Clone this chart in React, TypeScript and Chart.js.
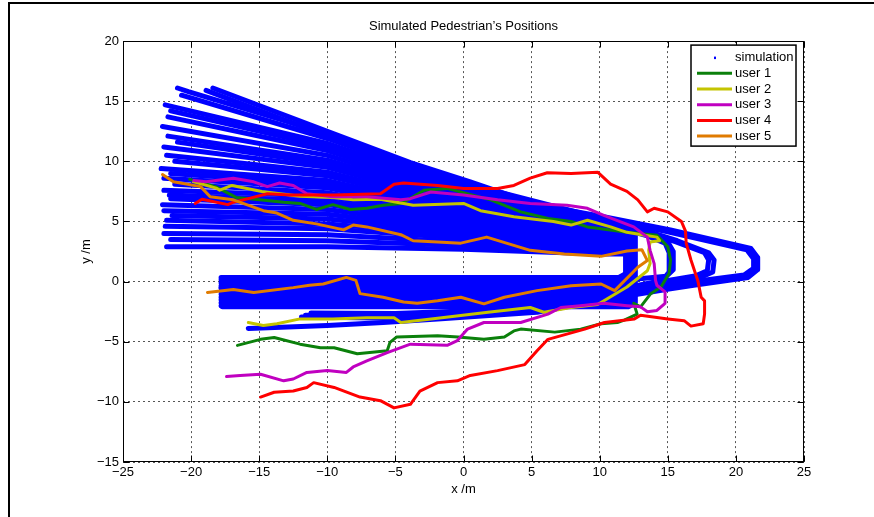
import { useEffect, useRef } from 'react';
import { Chart, registerables } from 'chart.js';

Chart.register(...registerables);

type Pt = [number, number];

const xTickValues = [-25, -20, -15, -10, -5, 0, 5, 10, 15, 20, 25];
const yTickValues = [-15, -10, -5, 0, 5, 10, 15, 20];

const simLabel = 'simulation';
const simColor = '#0000ff';
const userNames = ['user 1', 'user 2', 'user 3', 'user 4', 'user 5'];
const userColors = ['#0b800b', '#c4c400', '#c000c0', '#ff0000', '#e07b00'];

const user1: Pt[] = [
  [-20.1, 8.5], [-18.2, 7.9], [-16.7, 7.0], [-15.7, 6.9], [-13.2, 6.6], [-12.0, 6.5], [-10.8, 6.0],
  [-9.6, 6.4], [-8.3, 6.0], [-7.1, 6.1], [-5.9, 6.35], [-4.6, 6.5], [-3.7, 7.05], [-2.9, 7.6],
  [-1.2, 7.75], [2.0, 6.8], [4.2, 5.8], [6.2, 5.25], [7.9, 5.0], [9.1, 4.55], [10.1, 4.4],
  [12.0, 4.1], [14.2, 3.85], [15.0, 2.9], [15.2, 1.8], [15.1, 0.7], [14.5, -0.45], [13.75, -1.0],
  [13.0, -2.1], [12.5, -1.8], [12.75, -2.7], [11.8, -3.2], [11.3, -3.4], [10.1, -3.5], [8.6, -3.95],
  [6.7, -4.2], [4.2, -3.95], [3.7, -4.1], [3.0, -4.6], [1.5, -4.8], [-0.4, -4.6], [-1.9, -4.5],
  [-4.9, -4.6], [-5.4, -5.05], [-5.6, -5.75], [-7.8, -6.0], [-9.5, -5.5], [-10.5, -5.5],
  [-12.0, -5.2], [-13.9, -4.65], [-14.9, -4.8], [-16.6, -5.3],
];

const user2: Pt[] = [
  [-19.8, 8.3], [-18.1, 7.75], [-17.9, 7.6], [-17.0, 8.0], [-14.8, 7.5], [-12.0, 7.1], [-9.6, 7.0],
  [-8.1, 6.8], [-6.1, 6.85], [-3.7, 6.35], [0, 6.5], [1.25, 5.9], [3.7, 5.4], [6.6, 5.0],
  [7.9, 4.7], [9.1, 5.1], [10.8, 4.55], [12.0, 4.1], [13.3, 3.85], [14.2, 3.7], [14.4, 3.4],
  [13.7, 3.3], [13.6, 2.6], [13.7, 1.5], [13.5, 0.9], [12.0, -0.45], [9.85, -1.9], [7.9, -2.15],
  [5.9, -2.55], [4.9, -2.15], [1.8, -2.55], [-1.9, -3.05], [-4.6, -3.4], [-5.1, -3.0], [-7.1, -3.0],
  [-9.6, -3.1], [-12.0, -3.1], [-13.7, -3.5], [-14.7, -3.65], [-15.8, -3.4],
];

const user3: Pt[] = [
  [-19.8, 8.4], [-18.9, 8.3], [-16.9, 8.6], [-15.4, 8.3], [-14.4, 7.9], [-13.5, 8.2], [-12.5, 8.0],
  [-11.5, 7.3], [-9.6, 7.05], [-7.1, 7.05], [-4.6, 6.8], [-3.9, 6.9], [-2.4, 7.45], [0, 7.2],
  [2.5, 6.8], [4.9, 6.5], [7.6, 6.35], [9.1, 6.1], [10.3, 5.5], [12.5, 4.55], [13.5, 3.7],
  [13.7, 2.6], [14.0, 1.5], [14.1, 0.1], [14.2, -0.3], [14.8, -0.85], [14.8, -1.8], [14.2, -2.4],
  [13.5, -2.5], [13.0, -2.1], [12.0, -2.0], [10.3, -1.8], [8.6, -2.0], [7.15, -2.15], [6.2, -2.7],
  [4.2, -3.4], [1.5, -3.4], [0.3, -3.95], [-0.45, -4.9], [-1.2, -5.3], [-3.9, -5.2], [-5.6, -5.9],
  [-7.1, -6.6], [-8.1, -7.1], [-8.6, -7.55], [-10.0, -7.4], [-11.5, -7.55], [-12.5, -8.1],
  [-13.2, -8.25], [-14.9, -7.7], [-16.4, -7.8], [-17.4, -7.9],
];

const user4: Pt[] = [
  [-19.7, 6.5], [-19.2, 6.85], [-17.3, 6.4], [-16.9, 6.6], [-15.8, 6.9], [-14.4, 7.3], [-12.7, 7.2],
  [-9.5, 7.2], [-6.1, 7.3], [-5.1, 8.1], [-4.4, 8.2], [-1.9, 8.0], [0, 7.75], [2.5, 7.75],
  [3.7, 8.0], [4.9, 8.6], [6.15, 9.05], [7.9, 9.0], [9.85, 9.1], [10.8, 8.1], [12.0, 7.5],
  [12.8, 6.8], [13.5, 5.8], [14.0, 6.1], [15.0, 5.8], [16.0, 5.0], [16.3, 4.2], [16.35, 3.2],
  [16.7, 1.8], [17.2, 0.1], [17.45, -1.3], [17.7, -1.6], [17.7, -2.7], [17.6, -3.5], [16.7, -3.7],
  [16.2, -3.25], [15.0, -3.1], [13.0, -2.8], [12.55, -3.1], [10.35, -3.4], [8.9, -3.95], [6.2, -4.8],
  [5.4, -5.75], [4.5, -6.9], [2.5, -7.4], [0.5, -7.8], [-0.45, -8.25], [-1.9, -8.4], [-3.2, -9.1],
  [-3.9, -10.2], [-5.1, -10.5], [-6.1, -9.9], [-7.6, -9.6], [-9.5, -8.8], [-11.0, -8.4],
  [-11.5, -8.8], [-12.5, -9.1], [-13.9, -9.2], [-14.9, -9.6],
];

const user5: Pt[] = [
  [-22.1, 8.9], [-21.3, 8.3], [-19.3, 7.9], [-18.6, 7.05], [-16.9, 6.8], [-14.7, 5.9], [-13.7, 5.7],
  [-12.5, 5.1], [-10.8, 4.8], [-8.8, 4.3], [-8.1, 4.7], [-7.1, 4.55], [-4.6, 3.9], [-3.7, 3.4],
  [-1.9, 3.3], [-0.2, 3.2], [1.7, 3.7], [4.9, 2.6], [7.4, 2.3], [10.1, 2.1], [12.0, 2.55],
  [13.1, 2.65], [13.5, 1.75], [12.8, 1.2], [11.1, -0.75], [10.1, -0.2], [7.9, -0.35], [5.4, -0.75],
  [3.0, -1.3], [1.5, -1.85], [-0.2, -1.3], [-1.9, -1.6], [-3.4, -1.8], [-4.4, -1.7], [-5.9, -1.3],
  [-7.6, -1.0], [-7.9, 0.1], [-8.6, 0.35], [-10.3, -0.2], [-11.3, -0.3], [-12.5, -0.5],
  [-15.4, -0.9], [-16.9, -0.65], [-18.8, -0.9],
];

const userPaths = [user1, user2, user3, user4, user5];

// simulated walkers: out along the fan, turn near x = 12..22, back along the lower band
const simPaths: Pt[][] = [
  [[-18.4, 16.1], [-10, 12.5], [-3.9, 9.9], [0.5, 8.3], [5.4, 6.4], [10.3, 5.4], [15.2, 4.3], [21.1, 2.75], [21.6, 2.0], [21.6, 1.0], [20.9, 0.35], [16.9, -0.3], [15.2, -0.6], [9.9, -1.6], [5.4, -2.55], [-1.9, -3.1], [-5.9, -3.4], [-10, -3.65], [-15.8, -3.9]],
  [[-21.0, 16.1], [-20.2, 15.8], [-10, 12.3], [0, 8.2], [10, 5.3], [15.0, 4.15], [20.8, 2.65], [21.3, 1.9], [21.3, 1.1], [20.6, 0.55], [16.8, 0.0], [15.0, -0.35], [10, -1.35], [5, -2.3], [0, -2.85], [-5, -3.05], [-11.9, -2.95]],
  [[-18.9, 15.9], [-10, 12.1], [0, 8.0], [10, 5.2], [14, 4.0], [15.7, 3.4], [18.0, 2.4], [18.4, 1.8], [18.3, 0.8], [17.4, 0.35], [15, -0.1], [10, -1.15], [5, -2.05], [0, -2.65], [-5, -2.85], [-11.6, -2.8]],
  [[-20.7, 15.5], [-10, 11.9], [0, 7.9], [10, 5.1], [14, 3.9], [15.6, 3.3], [17.7, 2.4], [18.0, 1.8], [17.9, 0.9], [17.1, 0.5], [14.8, 0.05], [10, -0.95], [5, -1.85], [0, -2.45], [-5, -2.65], [-11.2, -2.6]],
  [[-21.9, 14.7], [-10, 11.5], [0, 7.7], [10, 5.0], [13.5, 3.9], [15.0, 3.3], [15.4, 2.5], [15.4, 1.0], [14.9, 0.45], [12.5, 0.2], [-17.7, 0.2]],
  [[-21.5, 14.2], [-10, 11.2], [0, 7.5], [10, 4.9], [13.5, 3.8], [14.8, 3.2], [15.1, 2.4], [15.1, 0.8], [14.6, 0.1], [12.4, -0.4], [-17.8, -0.5]],
  [[-21.7, 13.7], [-10, 10.9], [0, 7.3], [10, 4.8], [12.6, 4.4], [12.6, -1.8], [12.1, -2.1], [-17.7, -2.1]],
  [[-22.1, 12.9], [-10, 10.5], [0, 7.1], [10, 4.7], [12.6, 4.3], [12.6, -1.7], [12.1, -2.0], [-17.8, -2.0]],
  [[-21.7, 12.1], [-10, 10.1], [0, 6.9], [10, 4.6], [12.55, 4.2], [12.55, -1.55], [12.05, -1.85], [-17.6, -1.85]],
  [[-21.0, 11.6], [-10, 9.8], [0, 6.7], [10, 4.5], [12.5, 4.1], [12.5, -1.45], [12.0, -1.75], [-17.8, -1.75]],
  [[-22.0, 11.2], [-10, 9.5], [0, 6.5], [10, 4.4], [12.5, 4.0], [12.5, -1.35], [12.0, -1.65], [-17.7, -1.65]],
  [[-21.8, 10.5], [-10, 9.1], [0, 6.3], [10, 4.3], [12.45, 3.9], [12.45, -1.2], [11.95, -1.5], [-17.8, -1.5]],
  [[-21.2, 10.0], [-10, 8.8], [0, 6.1], [10, 4.2], [12.4, 3.8], [12.4, -1.1], [11.9, -1.4], [-17.6, -1.4]],
  [[-22.2, 9.4], [-10, 8.4], [0, 5.9], [10, 4.1], [12.4, 3.7], [12.4, -1.0], [11.9, -1.3], [-17.8, -1.3]],
  [[-21.5, 9.0], [-10, 8.1], [0, 5.7], [10, 4.0], [12.35, 3.6], [12.35, -0.85], [11.85, -1.15], [-17.7, -1.15]],
  [[-22.0, 8.6], [-10, 7.8], [0, 5.5], [10, 3.9], [12.3, 3.5], [12.3, -0.75], [11.8, -1.05], [-17.8, -1.05]],
  [[-21.2, 8.1], [-10, 7.4], [0, 5.3], [10, 3.8], [12.3, 3.4], [12.3, -0.6], [11.8, -0.9], [-17.7, -0.9]],
  [[-22.0, 7.6], [-10, 7.1], [0, 5.1], [10, 3.7], [12.25, 3.3], [12.25, -0.5], [11.75, -0.8], [-17.8, -0.8]],
  [[-21.6, 7.2], [-10, 6.7], [0, 4.9], [10, 3.6], [12.2, 3.2], [12.2, -0.4], [11.7, -0.7], [-17.6, -0.7]],
  [[-21.5, 6.9], [-10, 6.4], [0, 4.7], [10, 3.5], [12.2, 3.1], [12.2, -0.25], [11.7, -0.55], [-17.8, -0.55]],
  [[-22.1, 6.4], [-10, 6.0], [0, 4.5], [10, 3.4], [12.15, 3.0], [12.15, -0.15], [11.65, -0.45], [-17.7, -0.45]],
  [[-22.0, 5.9], [-10, 5.6], [0, 4.3], [10, 3.3], [12.1, 2.9], [12.1, -0.05], [11.6, -0.35], [-17.8, -0.35]],
  [[-21.4, 5.5], [-10, 5.2], [0, 4.1], [10, 3.1], [12.1, 2.8], [12.1, 0.1], [11.6, -0.2], [-17.6, -0.2]],
  [[-21.8, 5.1], [-10, 4.8], [0, 3.9], [10, 3.0], [12.05, 2.7], [12.05, 0.2], [11.55, -0.1], [-17.8, -0.1]],
  [[-21.9, 4.6], [-10, 4.4], [0, 3.6], [10, 2.9], [12.0, 2.6], [12.0, 0.3], [11.5, 0.0], [-17.7, 0.0]],
  [[-22.0, 4.0], [-10, 3.9], [0, 3.3], [10, 2.7], [12.0, 2.5], [12.0, 0.45], [11.5, 0.15], [-17.8, 0.15]],
  [[-21.5, 3.5], [-10, 3.4], [0, 3.0], [10, 2.5], [11.95, 2.4], [11.95, 0.55], [11.45, 0.25], [-17.7, 0.25]],
  [[-21.8, 2.9], [-10, 2.9], [0, 2.7], [10, 2.3], [11.9, 2.3], [11.9, 0.65], [11.4, 0.35], [-17.8, 0.35]],
];

const FONT = '"Liberation Sans", Arial, Helvetica, sans-serif';
const minus = (v: number) => String(v).replace('-', '\u2212');

// MATLAB-style box, inward ticks and in-axes legend
const matlabFrame = {
  id: 'matlabFrame',
  afterDraw(chart: any) {
    const { ctx, chartArea: a, scales } = chart;
    const L = Math.round(a.left) + 0.5;
    const R = Math.round(a.right) - 0.5;
    const T = Math.round(a.top) + 0.5;
    const B = Math.round(a.bottom) - 0.5;
    ctx.save();
    ctx.setLineDash([]);
    ctx.strokeStyle = '#000';
    ctx.lineWidth = 1;
    ctx.strokeRect(L, T, R - L, B - T);
    ctx.beginPath();
    xTickValues.forEach(v => {
      const px = Math.round(scales.x.getPixelForValue(v)) + 0.5;
      ctx.moveTo(px, B); ctx.lineTo(px, B - 6);
      ctx.moveTo(px, T); ctx.lineTo(px, T + 6);
    });
    yTickValues.forEach(v => {
      const py = Math.round(scales.y.getPixelForValue(v)) + 0.5;
      ctx.moveTo(L, py); ctx.lineTo(L + 6, py);
      ctx.moveTo(R, py); ctx.lineTo(R - 6, py);
    });
    ctx.stroke();

    // legend box
    const bx = a.right - 113;
    const by = a.top + 4;
    const bw = 105;
    const bh = 101;
    ctx.fillStyle = '#fff';
    ctx.fillRect(bx, by, bw, bh);
    ctx.lineWidth = 1.5;
    ctx.strokeRect(bx, by, bw, bh);
    ctx.font = `13px ${FONT}`;
    ctx.textBaseline = 'middle';
    ctx.textAlign = 'left';
    const rowY = (i: number) => by + 12.5 + i * 15.7;
    ctx.fillStyle = simColor;
    ctx.fillRect(bx + 23, rowY(0) - 1, 2, 2.5);
    ctx.fillStyle = '#000';
    ctx.fillText(simLabel, bx + 44, rowY(0));
    userNames.forEach((name, i) => {
      const y = rowY(i + 1);
      ctx.beginPath();
      ctx.strokeStyle = userColors[i];
      ctx.lineWidth = 3;
      ctx.moveTo(bx + 6, y);
      ctx.lineTo(bx + 41, y);
      ctx.stroke();
      ctx.fillStyle = '#000';
      ctx.fillText(name, bx + 44, y);
    });
    ctx.restore();
  },
};

export default function App() {
  const canvasRef = useRef<HTMLCanvasElement>(null);

  useEffect(() => {
    if (!canvasRef.current) return;
    const toXY = (p: Pt[]) => p.map(([x, y]) => ({ x, y }));
    const userSets = userPaths
      .map((p, i) => ({
        label: userNames[i],
        data: toXY(p),
        showLine: true,
        borderColor: userColors[i],
        backgroundColor: userColors[i],
        borderWidth: 3,
        pointRadius: 0,
        borderJoinStyle: 'round' as const,
        borderCapStyle: 'round' as const,
      }))
      .reverse();
    const simSets = simPaths.map((p, i) => ({
      label: i === 0 ? simLabel : '',
      data: toXY(p),
      showLine: true,
      borderColor: simColor,
      backgroundColor: simColor,
      borderWidth: 5,
      pointRadius: 0,
      borderJoinStyle: 'round' as const,
      borderCapStyle: 'round' as const,
    }));

    const chart = new Chart(canvasRef.current, {
      type: 'scatter',
      data: { datasets: [...userSets, ...simSets] },
      options: {
        responsive: false,
        animation: false,
        layout: { padding: { left: 0, right: 70, top: 0, bottom: 0 } },
        plugins: {
          legend: { display: false },
          tooltip: { enabled: false },
          title: {
            display: true,
            text: 'Simulated Pedestrian\u2019s Positions',
            fullSize: false,
            color: '#000',
            font: { family: FONT, size: 13, weight: 'normal' },
            padding: { top: 18.2, bottom: 7.3 },
          },
        },
        scales: {
          x: {
            type: 'linear',
            min: -25,
            max: 25,
            afterBuildTicks: (s: any) => { s.ticks = xTickValues.map(v => ({ value: v })); },
            afterFit: (s: any) => { s.height = 55; },
            ticks: {
              color: '#000',
              padding: 3,
              font: { family: FONT, size: 13 },
              callback: (v: any) => minus(v),
            },
            grid: { color: '#555', lineWidth: 1, drawTicks: false },
            border: { display: false, dash: [2, 3] },
            title: {
              display: true,
              text: 'x /m',
              color: '#000',
              font: { family: FONT, size: 13 },
              padding: { top: 0, bottom: 20 },
            },
          },
          y: {
            type: 'linear',
            min: -15,
            max: 20,
            afterBuildTicks: (s: any) => { s.ticks = yTickValues.map(v => ({ value: v })); },
            afterFit: (s: any) => { s.width = 123; },
            ticks: {
              color: '#000',
              padding: 4,
              font: { family: FONT, size: 13 },
              callback: (v: any) => minus(v),
            },
            grid: { color: '#555', lineWidth: 1, drawTicks: false },
            border: { display: false, dash: [2, 3] },
            title: {
              display: true,
              text: 'y /m',
              color: '#000',
              font: { family: FONT, size: 13 },
              padding: { top: 79, bottom: 0 },
            },
          },
        },
      },
      plugins: [matlabFrame],
    });
    return () => { chart.destroy(); };
  }, []);

  return (
    <div style={{ position: 'absolute', left: 0, top: 0, width: 874, height: 517, background: '#fff' }}>
      <canvas ref={canvasRef} width={874} height={517} style={{ width: 874, height: 517 }} />
      <div
        style={{
          position: 'absolute', left: 8, top: 2, width: 866, height: 515,
          borderTop: '2px solid #000', borderLeft: '2px solid #000', boxSizing: 'border-box',
          pointerEvents: 'none',
        }}
      />
    </div>
  );
}
